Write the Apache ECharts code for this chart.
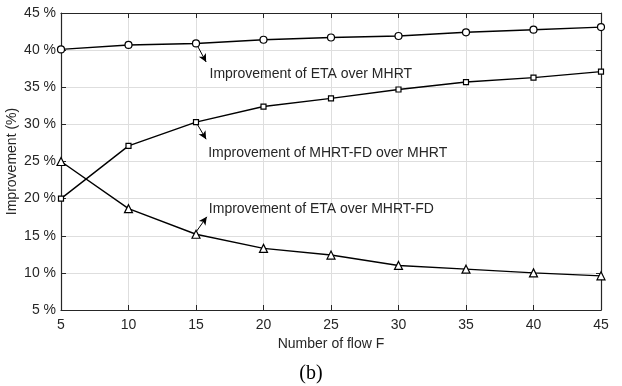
<!DOCTYPE html>
<html>
<head>
<meta charset="utf-8">
<script src="https://cdn.jsdelivr.net/npm/echarts@6/dist/echarts.min.js"></script>
<style>
  html, body { margin: 0; padding: 0; background: #fff; }
  #chart { width: 622px; height: 386px; }
</style>
</head>
<body>
<div id="chart"></div>
<script>
// Number of flows F
const flows = [5, 10, 15, 20, 25, 30, 35, 40, 45];

// Improvement percentages for each comparison
const etaOverMhrt = [40.1, 40.7, 40.9, 41.4, 41.7, 41.9, 42.4, 42.75, 43.1];
const mhrtFdOverMhrt = [20.0, 27.1, 30.3, 32.4, 33.5, 34.7, 35.7, 36.3, 37.1];
const etaOverMhrtFd = [25.0, 18.65, 15.2, 13.3, 12.4, 11.0, 10.5, 10.0, 9.6];

// Annotation texts
const labelEtaMhrt = 'Improvement of ETA over MHRT';
const labelFdMhrt = 'Improvement of MHRT-FD over MHRT';
const labelEtaFd = 'Improvement of ETA over MHRT-FD';

const FONT = 'Liberation Sans, Arial, sans-serif';
const TXT = '#262626';

function pairs(ys) { return flows.map((x, i) => [x, ys[i]]); }

// Arrow annotation (start -> end in data units) plus a text label
function annot(arrowFrom, arrowTo, textAt, text) {
  return {
    markLine: {
      silent: true,
      symbol: ['none', 'arrow'],
      symbolSize: [6, 8],
      lineStyle: { color: '#000', width: 1, type: 'solid' },
      label: { show: false },
      data: [[{ coord: arrowFrom }, { coord: arrowTo }]]
    },
    markPoint: {
      silent: true,
      symbol: 'circle',
      symbolSize: 0,
      data: [{ coord: textAt }],
      label: {
        show: true, position: 'right', distance: 0, formatter: text,
        fontFamily: FONT, fontSize: 14, color: TXT
      }
    }
  };
}

const seriesBase = {
  type: 'line',
  lineStyle: { color: '#000', width: 1.4 },
  itemStyle: { color: '#fff', borderColor: '#000', borderWidth: 1.2 },
  showAllSymbol: true,
  animation: false,
  z: 5
};

const chart = echarts.init(document.getElementById('chart'));
chart.setOption({
  backgroundColor: '#fff',
  animation: false,
  grid: { left: 61, right: 21, top: 13, bottom: 76, containLabel: false, outerBoundsMode: 'none' },
  title: {
    text: '(b)', left: 'center', bottom: 2, padding: 0,
    textStyle: { fontFamily: 'Liberation Serif, Times New Roman, serif', fontSize: 20, fontWeight: 'normal', color: '#000' }
  },
  xAxis: [{
    type: 'value', min: 5, max: 45, interval: 5,
    name: 'Number of flow F', nameLocation: 'middle', nameGap: 27, nameMoveOverlap: false,
    nameTextStyle: { fontFamily: FONT, fontSize: 14, color: TXT },
    axisLine: { show: true, lineStyle: { color: '#262626', width: 1.2 } },
    axisTick: { show: true, inside: true, length: 5, lineStyle: { color: '#262626' } },
    axisLabel: { fontFamily: FONT, fontSize: 14, color: TXT, margin: 8 },
    splitLine: { show: true, lineStyle: { color: '#dedede', width: 1 } }
  }, {
    type: 'value', position: 'top', min: 5, max: 45, interval: 5,
    axisLine: { show: true, lineStyle: { color: '#262626', width: 1.2 } },
    axisTick: { show: true, inside: true, length: 5, lineStyle: { color: '#262626' } },
    axisLabel: { show: false },
    splitLine: { show: false }
  }],
  yAxis: [{
    type: 'value', min: 5, max: 45, interval: 5,
    name: 'Improvement (%)', nameLocation: 'middle', nameGap: 42, nameMoveOverlap: false,
    nameTextStyle: { fontFamily: FONT, fontSize: 14, color: TXT },
    axisLine: { show: true, lineStyle: { color: '#262626', width: 1.2 } },
    axisTick: { show: true, inside: true, length: 5, lineStyle: { color: '#262626' } },
    axisLabel: { fontFamily: FONT, fontSize: 14, color: TXT, margin: 5, formatter: v => v + ' %' },
    splitLine: { show: true, lineStyle: { color: '#dedede', width: 1 } }
  }, {
    type: 'value', position: 'right', min: 5, max: 45, interval: 5,
    axisLine: { show: true, lineStyle: { color: '#262626', width: 1.2 } },
    axisTick: { show: true, inside: true, length: 5, lineStyle: { color: '#262626' } },
    axisLabel: { show: false },
    splitLine: { show: false }
  }],
  series: [
    Object.assign({}, seriesBase, {
      name: labelEtaMhrt, data: pairs(etaOverMhrt),
      symbol: 'circle', symbolSize: 7
    }, annot([15.1, 40.6], [15.75, 38.4], [16.0, 36.8], labelEtaMhrt)),
    Object.assign({}, seriesBase, {
      name: labelFdMhrt, data: pairs(mhrtFdOverMhrt),
      symbol: 'rect', symbolSize: 5
    }, annot([15.1, 30.0], [15.75, 28.0], [15.9, 26.1], labelFdMhrt)),
    Object.assign({}, seriesBase, {
      name: labelEtaFd, data: pairs(etaOverMhrtFd),
      symbol: 'triangle', symbolSize: 8
    }, annot([15.0, 15.5], [15.8, 17.55], [15.95, 18.65], labelEtaFd))
  ]
});
</script>
</body>
</html>
